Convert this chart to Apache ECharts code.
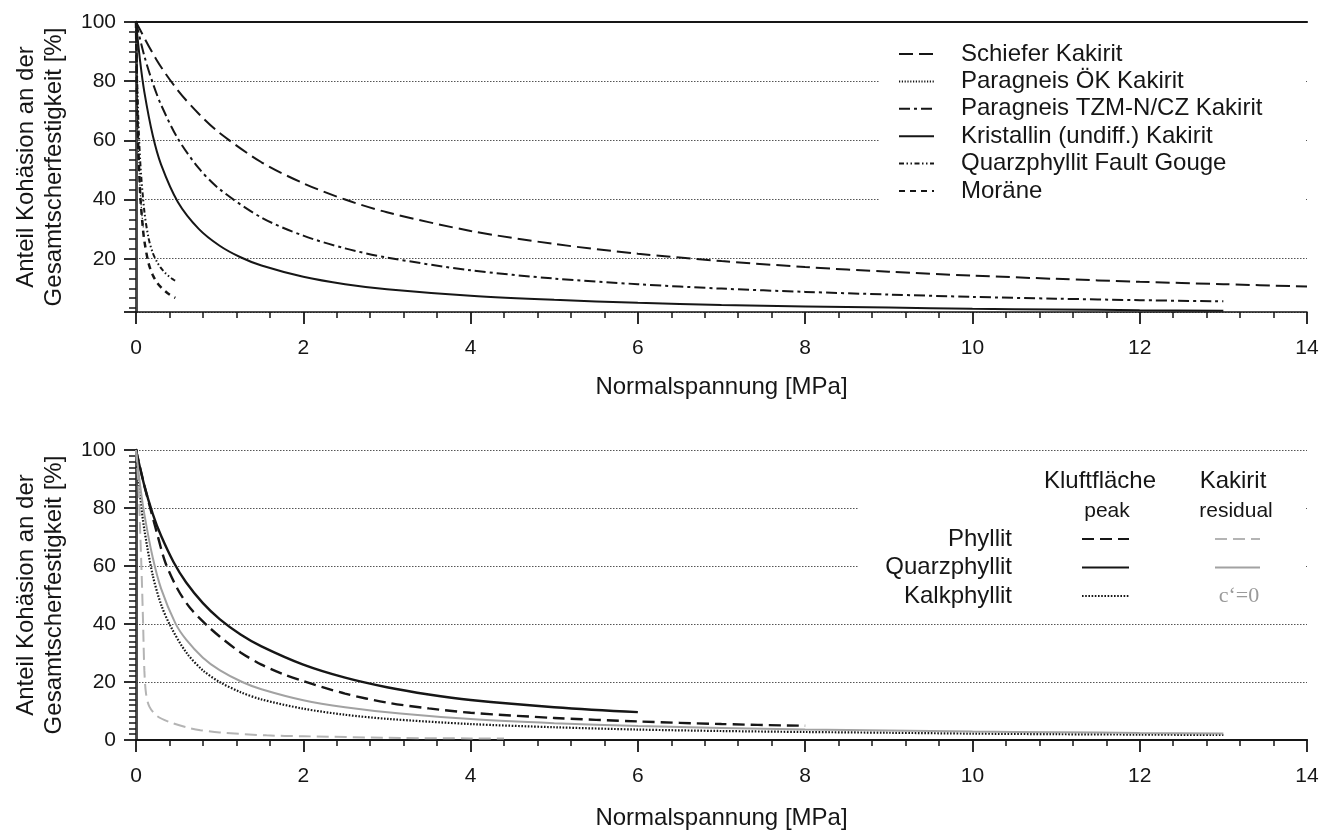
<!DOCTYPE html>
<html><head><meta charset="utf-8">
<script src="https://cdn.jsdelivr.net/npm/echarts@6/dist/echarts.min.js"></script>
<style>html,body{margin:0;padding:0;background:#fff}#c{width:1335px;height:831px}</style>
</head><body><div id="c"></div><script>
// ---------- texts ----------
const xName = 'Normalspannung [MPa]';
const yName = 'Anteil Kohäsion an der\nGesamtscherfestigkeit [%]';
const topNames = ['Schiefer Kakirit', 'Paragneis ÖK Kakirit', 'Paragneis TZM-N/CZ Kakirit',
  'Kristallin (undiff.) Kakirit', 'Quarzphyllit Fault Gouge', 'Moräne'];
const rockNames = ['Phyllit', 'Quarzphyllit', 'Kalkphyllit'];
const residualNames = ['Phyllit residual', 'Quarzphyllit residual'];
const headerTexts = ['Kluftfläche', 'Kakirit', 'peak', 'residual', 'c‘=0'];

// ---------- top chart data [Normalspannung MPa, Anteil %] ----------
const schiefer = [[0,100],[0.25,87],[0.5,76.9],[0.75,69],[1,62.5],[1.5,52.6],[2,45.5],[2.5,40],[3,35.7],
  [4,29.4],[5,25],[6,21.7],[7,19.2],[8,17.2],[9,15.6],[10,14.3],[11,13.2],[12,12.2],[13,11.4],[14,10.6]];
const paragneisOK = [[0,100],[0.01,80],[0.02,66],[0.03,56],[0.05,43],[0.07,35],[0.09,30]];
const paragneisTZM = [[0,100],[0.1,88.5],[0.2,79.4],[0.3,72],[0.5,60.6],[0.75,50.6],[1,43.5],[1.5,33.9],
  [2,27.8],[2.5,23.5],[3,20.4],[4,16.1],[5,13.3],[6,11.4],[7,9.9],[8,8.8],[9,7.9],[10,7.1],[11,6.5],[12,6],[13,5.6]];
const kristallin = [[0,100],[0.05,86.6],[0.1,76.3],[0.2,61.7],[0.3,51.8],[0.5,39.2],[0.75,30.1],[1,24.4],
  [1.25,20.5],[1.5,17.7],[2,13.9],[2.5,11.4],[3,9.7],[4,7.5],[5,6.1],[6,5.1],[7,4.4],[8,3.9],[9,3.5],
  [10,3.1],[11,2.85],[12,2.6],[13,2.4]];
const quarzFG = [[0,100],[0.02,74],[0.05,53],[0.1,36],[0.15,27],[0.2,22],[0.25,19],[0.3,16.8],[0.35,15.2],
  [0.4,13.9],[0.45,12.9],[0.49,12.2]];
const moraene = [[0,100],[0.02,65],[0.05,42],[0.08,31],[0.1,26],[0.15,18.5],[0.2,14.5],[0.25,12],[0.3,10.3],
  [0.35,9],[0.4,7.9],[0.47,6.8]];

// ---------- bottom chart data ----------
const phyllitPeak = [[0,100],[0.1,87.7],[0.17,80],[0.25,71.4],[0.35,61.3],[0.5,51.9],[0.65,45.4],[0.85,39.5],
  [1,35.7],[1.25,30.2],[1.5,26],[1.75,22.8],[2,20.3],[2.5,16],[3,12.9],[3.5,10.9],[4,9.4],[5,7.6],[6,6.4],
  [7,5.5],[8,4.9]];
const quarzPeak = [[0,100],[0.1,87.7],[0.2,78],[0.3,70.4],[0.45,61.3],[0.6,54.3],[0.8,47.2],[1,41.7],
  [1.25,36.4],[1.5,32.3],[2,26],[2.5,21.5],[3,18.2],[3.5,15.7],[4,13.8],[5,11.3],[6,9.6]];
const kalkPeak = [[0,100],[0.05,84],[0.1,72.5],[0.2,56.8],[0.3,46.7],[0.41,39.4],[0.6,30.2],[0.8,24],[1,20],
  [1.25,16.5],[1.5,14],[2,10.8],[2.5,8.7],[3,7.3],[4,5.5],[5,4.4],[6,3.6],[7,3.1],[8,2.76],[9,2.5],[10,2.2],
  [11,2],[12,1.86],[13,1.72]];
const phyllitResidual = [[0,100],[0.03,88],[0.05,72],[0.07,55],[0.085,40],[0.1,24],[0.12,16],[0.16,11.5],
  [0.25,8.3],[0.4,6.2],[0.6,4.4],[0.77,3.4],[1,2.6],[1.56,1.6],[2,1.3],[3.16,0.7],[4,0.55],[4.4,0.5]];
const quarzResidual = [[0,100],[0.05,87.7],[0.1,77.8],[0.2,62.9],[0.3,52.2],[0.47,40.3],[0.6,34.6],[0.8,28.4],
  [1,24.1],[1.27,20],[1.5,17.5],[2,13.7],[2.5,11.3],[3.16,9.1],[4,7.2],[5,5.8],[6,4.8],[7,4.15],[8,3.6],
  [9,3.3],[10,2.9],[11,2.7],[12,2.4],[13,2.25]];

const FONT = 'Liberation Sans, Arial, sans-serif';
const INK = '#161616';

function line(name, data, idx, color, width, dash) {
  return {
    name, type: 'line', data, xAxisIndex: idx * 2, yAxisIndex: idx * 2,
    symbol: 'none', showSymbol: false, smooth: 0.3, silent: true,
    lineStyle: { color, width, type: dash }, itemStyle: { color }, z: 3
  };
}

function xAxes(gi, gap) {
  return [{
    gridIndex: gi, type: 'value', min: 0, max: 14, interval: 2, position: 'bottom',
    axisLine: { lineStyle: { color: INK, width: 1.5 } },
    axisTick: { length: 12, lineStyle: { color: INK, width: 1.8 } },
    minorTick: { show: true, splitNumber: 5, length: 6, lineStyle: { color: INK, width: 1.5 } },
    axisLabel: { fontSize: 21, margin: 26, color: INK, fontFamily: FONT },
    splitLine: { show: false },
    name: xName, nameLocation: 'middle', nameGap: gap,
    nameTextStyle: { fontSize: 24, color: INK, fontFamily: FONT }
  }, {
    gridIndex: gi, type: 'value', min: 0, max: 14, position: 'top',
    axisLine: { lineStyle: { color: INK, width: 2.2 } },
    axisTick: { show: false }, axisLabel: { show: false }, splitLine: { show: false }
  }];
}

function yAxes(gi, min, minorSplit) {
  return [{
    gridIndex: gi, type: 'value', min, max: 100, splitNumber: 5, position: 'left',
    axisLine: { lineStyle: { color: INK, width: 2.5 } },
    axisTick: { length: 12, lineStyle: { color: INK, width: 1.8 } },
    minorTick: { show: true, splitNumber: minorSplit, length: 7, lineStyle: { color: INK, width: 1.5 } },
    axisLabel: { fontSize: 21, margin: 20, color: INK, fontFamily: FONT, showMinLabel: min === 0 },
    splitLine: { show: true, lineStyle: { color: '#555', width: 1, type: [1.5, 1.5] } },
    name: yName, nameLocation: 'middle', nameGap: 68,
    nameTextStyle: { fontSize: 24, lineHeight: 28, color: INK, fontFamily: FONT, align: 'center' }
  }, {
    gridIndex: gi, type: 'value', min, max: 100, position: 'right',
    axisLine: { lineStyle: { color: '#444', width: 1 } },
    axisTick: { show: false }, axisLabel: { show: false }, splitLine: { show: false }
  }];
}

const legendText = { fontSize: 24, color: INK, fontFamily: FONT };
const noSymbol = { opacity: 0 };

const option = {
  animation: false,
  backgroundColor: '#fff',
  textStyle: { fontFamily: FONT },
  grid: [
    { left: 136, right: 28, top: 22, height: 290 },
    { left: 136, right: 28, top: 450, height: 292 }
  ],
  xAxis: [...xAxes(0, 63), ...xAxes(1, 66)],
  yAxis: [...yAxes(0, 2, 6), ...yAxes(1, 0, 10)],
  legend: [{
    data: topNames, orient: 'vertical', left: 898, top: 42, padding: 0,
    itemWidth: 35, itemHeight: 14, itemGap: 3.4, selectedMode: false, itemStyle: noSymbol,
    textStyle: Object.assign({ padding: [0, 0, 0, 22] }, legendText)
  }, {
    data: rockNames, orient: 'vertical', align: 'right', right: 205, top: 527, padding: 0,
    itemWidth: 47, itemHeight: 14, itemGap: 4.5, selectedMode: false, itemStyle: noSymbol,
    textStyle: Object.assign({ padding: [0, 65, 0, 0] }, legendText)
  }, {
    data: residualNames, orient: 'vertical', align: 'right', right: 74, top: 527, padding: 0,
    itemWidth: 45, itemHeight: 14, itemGap: 4.5, selectedMode: false, itemStyle: noSymbol,
    formatter: () => ' ', textStyle: legendText
  }],
  graphic: [
    { type: 'rect', z: 1, silent: true, shape: { x: 880, y: 36, width: 425, height: 182 }, style: { fill: '#fff' } },
    { type: 'rect', z: 1, silent: true, shape: { x: 858, y: 462, width: 447, height: 150 }, style: { fill: '#fff' } },
    { type: 'text', z: 5, x: 1100, y: 481, style: { text: headerTexts[0], fill: INK, font: '24px ' + FONT, textAlign: 'center', textVerticalAlign: 'middle' } },
    { type: 'text', z: 5, x: 1233, y: 481, style: { text: headerTexts[1], fill: INK, font: '24px ' + FONT, textAlign: 'center', textVerticalAlign: 'middle' } },
    { type: 'text', z: 5, x: 1107, y: 511, style: { text: headerTexts[2], fill: INK, font: '21px ' + FONT, textAlign: 'center', textVerticalAlign: 'middle' } },
    { type: 'text', z: 5, x: 1236, y: 511, style: { text: headerTexts[3], fill: INK, font: '21px ' + FONT, textAlign: 'center', textVerticalAlign: 'middle' } },
    { type: 'text', z: 5, x: 1239, y: 596, style: { text: headerTexts[4], fill: '#9a9a9a', font: '22px Liberation Serif, serif', textAlign: 'center', textVerticalAlign: 'middle' } }
  ],
  series: [
    line(topNames[0], schiefer, 0, INK, 2, [14, 6]),
    line(topNames[1], paragneisOK, 0, INK, 1.2, [1.2, 1.6]),
    line(topNames[2], paragneisTZM, 0, INK, 2, [11, 4, 3, 4]),
    line(topNames[3], kristallin, 0, INK, 2, 'solid'),
    line(topNames[4], quarzFG, 0, INK, 2, [5, 2.5, 1.5, 2.5, 1.5, 2.5]),
    line(topNames[5], moraene, 0, INK, 2.5, [6, 5]),
    line(rockNames[0], phyllitPeak, 1, INK, 2.4, [12, 6]),
    line(rockNames[1], quarzPeak, 1, INK, 2.4, 'solid'),
    line(rockNames[2], kalkPeak, 1, INK, 2.2, [1.6, 1.6]),
    line(residualNames[0], phyllitResidual, 1, '#b4b4b4', 2, [12, 6]),
    line(residualNames[1], quarzResidual, 1, '#a2a2a2', 2, 'solid')
  ]
};

const chart = echarts.init(document.getElementById('c'), null, { renderer: 'canvas' });
chart.setOption(option);
</script></body></html>
